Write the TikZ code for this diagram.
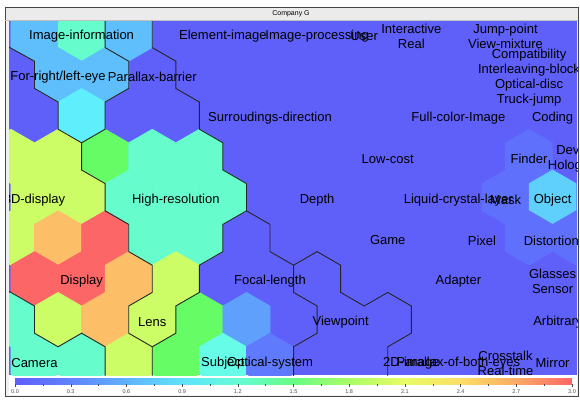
\documentclass[tikz,border=0pt]{standalone}
\usepackage{fontspec}
\setmainfont{Liberation Sans}
\usetikzlibrary{positioning}
\definecolor{cB}{RGB}{95,95,250}
\definecolor{cB1}{RGB}{95,112,252}
\definecolor{cB2}{RGB}{95,122,252}
\definecolor{cMB}{RGB}{95,160,252}
\definecolor{cLB}{RGB}{95,190,252}
\definecolor{cObj}{RGB}{95,208,252}
\definecolor{cCy}{RGB}{95,238,252}
\definecolor{cAq}{RGB}{102,252,232}
\definecolor{cMint}{RGB}{102,252,204}
\definecolor{cGr}{RGB}{102,252,102}
\definecolor{cYG}{RGB}{204,252,102}
\definecolor{cOr}{RGB}{252,190,102}
\definecolor{cRd}{RGB}{252,102,102}
% colour bar stops
\definecolor{cv0}{RGB}{95,95,250}
\definecolor{cv1}{RGB}{95,130,252}
\definecolor{cv2}{RGB}{95,178,252}
\definecolor{cv3}{RGB}{95,226,252}
\definecolor{cv4}{RGB}{102,252,214}
\definecolor{cv5}{RGB}{102,252,130}
\definecolor{cv6}{RGB}{170,252,102}
\definecolor{cv7}{RGB}{232,252,102}
\definecolor{cv8}{RGB}{252,222,102}
\definecolor{cv9}{RGB}{252,170,102}
\definecolor{cv10}{RGB}{252,102,102}
\tikzstyle{hexcell}=[line width=0.6pt,line join=round]
\tikzstyle{cluster}=[draw=black!85,line width=0.9pt]
\tikzstyle{lbl}=[inner sep=0pt,align=center,yshift=-2.5pt,font=\fontsize{13}{15}\selectfont]
\tikzstyle{cbtick}=[gray!60!black,line width=0.4pt]
\tikzstyle{cblabel}=[inner sep=0pt,font=\fontsize{5.5}{6}\selectfont,text=gray!60!black]
\newcommand{\somhex}[3]{%
  \path[hexcell,fill=#3,draw=#3] (#1,#2) +(0,-2) -- +(1,-1) -- +(1,1) -- +(0,2)
  -- +(-1,1) -- +(-1,-1) -- cycle;}

\begin{document}
\begin{tikzpicture}[x=1pt,y=-1pt]
\useasboundingbox (0,0) rectangle (580,400);
\fill[white] (0,0) rectangle (580,400);
\fill[gray!12] (5,7) rectangle (578,396);
\fill[white] (9,375) rectangle (577,395);
\fill[gray!16] (5,7) rectangle (578,20);
\node[font=\fontsize{7}{8}\selectfont] (title) at (291,13.5) {Company G};

\begin{scope}
\clip (9,20) rectangle (577,375);
\fill[cB] (9,20) rectangle (577,375);
\begin{scope}[shift={(10.95,6.8)},x=23.55pt,y=-13.6pt]
% coloured cells
\foreach \k/\m/\c in {1/2/cLB,3/2/cMint,5/2/cLB,2/5/cLB,4/5/cLB,3/8/cCy,
  0/11/cYG,2/11/cYG,4/11/cGr,6/11/cMint,8/11/cMint,22/11/cB1,
  1/14/cYG,3/14/cYG,5/14/cMint,7/14/cMint,9/14/cMint,21/14/cB1,23/14/cObj,
  0/17/cYG,2/17/cOr,4/17/cRd,6/17/cMint,8/17/cMint,22/17/cB1,24/17/cB1,
  1/20/cRd,3/20/cRd,5/20/cOr,7/20/cYG,
  0/23/cMint,2/23/cYG,4/23/cOr,6/23/cYG,8/23/cGr,10/23/cMB,
  1/26/cMint,3/26/cMint,5/26/cYG,7/26/cGr,9/26/cAq,11/26/cB2}
  {\somhex{\k}{\m}{\c}}
% cluster borders
\draw[cluster] (-0.1,2.95) -- (1,4) -- (1,6) -- (2,7) -- (2,9) -- (3,10);
\draw[cluster] (4,0.9) -- (4,3) -- (5,4) -- (5,6) -- (4,7) -- (4,9) -- (3,10)
  -- (3,12) -- (4,13) -- (4,15) -- (5,16) -- (5,18) -- (6,19) -- (6,21)
  -- (5,22) -- (5,24) -- (6,25) -- (6,28);
\draw[cluster] (6,0.9) -- (6,3) -- (7,4) -- (7,6) -- (8,7) -- (8,9) -- (9,10)
  -- (9,12) -- (10,13) -- (10,15) -- (9,16) -- (9,18) -- (8,19) -- (8,21)
  -- (7,22) -- (7,24) -- (6,25);
\draw[cluster] (10,15) -- (11,16) -- (11,18) -- (12,19) -- (12,21) -- (13,22)
  -- (13,24) -- (12,25) -- (12,28);
\draw[cluster] (12,19) -- (13,18) -- (14,19) -- (14,21) -- (15,22) -- (16,21)
  -- (17,22) -- (17,24) -- (16,25) -- (16,28);
\draw[cluster] (-0.1,20.9) -- (1,22) -- (1,24) -- (2,25) -- (3,24) -- (4,25)
  -- (4,28);
% labels
\node[lbl] (imginfo) at (3,2) {Image-information};
\node[lbl] (elemimg) at (9,2) {Element-image};
\node[lbl] (imgproc) at (13,2) {Image-processing};
\node[lbl] (user) at (15,2) {User};
\node[lbl] (interact) at (17,2) {Interactive\\Real};
\node[lbl] (jump) at (21,2) {Jump-point\\View-mixture};
\node[lbl] (foreye) at (2,5) {For-right/left-eye};
\node[lbl] (barrier) at (6,5) {Parallax-barrier};
\node[lbl] (compat) at (22,5) {Compatibility\\Interleaving-block\\Optical-disc\\Truck-jump};
\node[lbl] (surround) at (11,8) {Surroudings-direction};
\node[lbl] (fullcol) at (19,8) {Full-color-Image};
\node[lbl] (coding) at (23,8) {Coding};
\node[lbl] (lowcost) at (16,11) {Low-cost};
\node[lbl] (finder) at (22,11) {Finder};
\node[lbl] (device) at (24,11) {Device\\Hologram};
\node[lbl] (threed) at (1,14) {3D-display};
\node[lbl] (highres) at (7,14) {High-resolution};
\node[lbl] (depth) at (13,14) {Depth};
\node[lbl] (liquid) at (19,14) {Liquid-crystal-layer};
\node[lbl] (mask) at (21,14) {Mask};
\node[lbl] (object) at (23,14) {Object};
\node[lbl] (game) at (16,17) {Game};
\node[lbl] (pixel) at (20,17) {Pixel};
\node[lbl,anchor=west] (distort) at (21.77,17) {Distortion-};
\node[lbl] (display) at (3,20) {Display};
\node[lbl] (focal) at (11,20) {Focal-length};
\node[lbl] (adapter) at (19,20) {Adapter};
\node[lbl] (glasses) at (23,20) {Glasses\\Sensor};
\node[lbl] (lens) at (6,23) {Lens};
\node[lbl] (viewpt) at (14,23) {Viewpoint};
\node[lbl,anchor=west] (arbitr) at (22.17,23) {Arbitrary};
\node[lbl] (camera) at (1,26) {Camera};
\node[lbl] (subject) at (9,26) {Subject};
\node[lbl] (optsys) at (11,26) {Optical-system};
\node[lbl] (twod) at (17,26) {2D-image};
\node[lbl] (botheyes) at (19,26) {Parallax-of-both-eyes};
\node[lbl] (crosstalk) at (21,26) {Crosstalk\\Real-time};
\node[lbl] (mirror) at (23,26) {Mirror};
\end{scope}
\end{scope}

% colour bar
\foreach \i [evaluate=\i as \j using int(\i+1)] in {0,...,9}
  \shade[left color=cv\i,right color=cv\j] ({15+55.7*\i},378) rectangle ({15+55.7*\j},384);
\foreach \i/\t in {0/0.0,1/0.3,2/0.6,3/0.9,4/1.2,5/1.5,6/1.8,7/2.1,8/2.4,9/2.7,10/3.0} {
  \draw[cbtick] ({15+55.7*\i},384) -- ++(0,3);
  \node[cblabel] (cb\i) at ({15+55.7*\i},391.5) {\t};
}
\foreach \i in {0,...,9}
  \draw[cbtick] ({15+55.7*\i+27.85},384) -- ++(0,2);

\draw[gray!55!black,line width=0.6pt] (5,7) rectangle (578,396);
\draw[gray!50,line width=0.4pt] (5,20) -- (578,20);
\end{tikzpicture}
\end{document}
